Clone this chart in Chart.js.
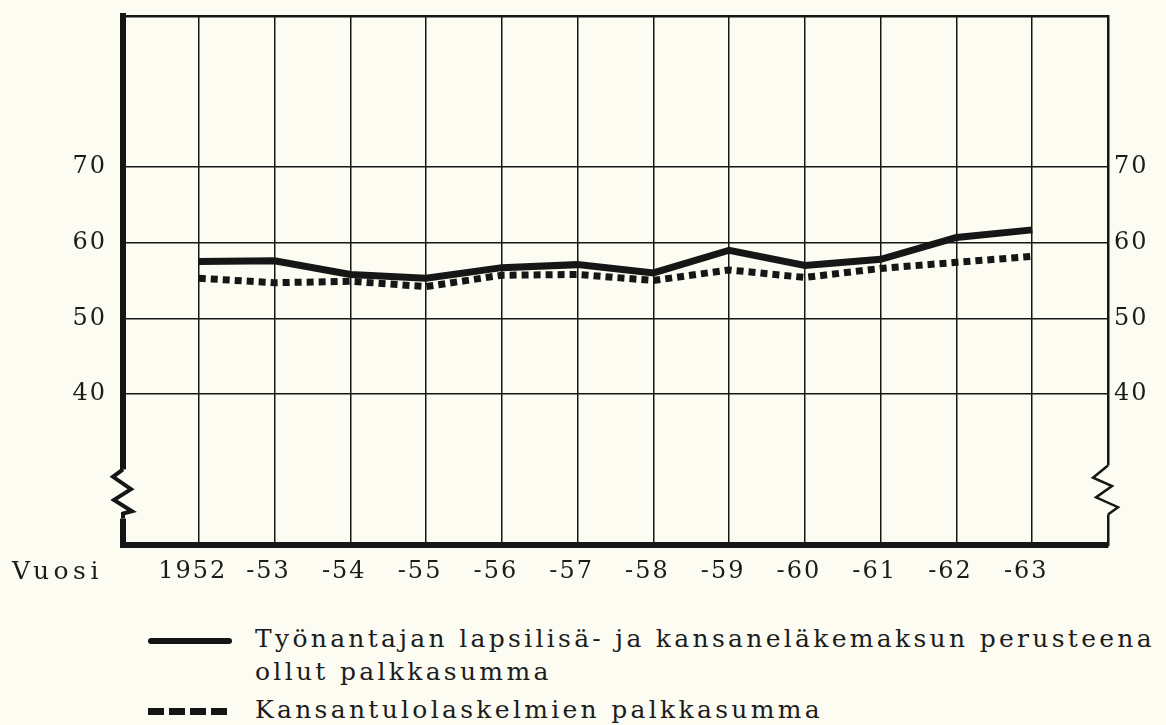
<!DOCTYPE html>
<html>
<head>
<meta charset="utf-8">
<script src="https://cdn.jsdelivr.net/npm/chart.js@4.4.0/dist/chart.umd.min.js"></script>
<style>
    html, body { margin: 0; padding: 0; background: #fdfcf3; }
    body { width: 1166px; height: 725px; position: relative; overflow: hidden; font-family: "DejaVu Serif", serif; color: #1c1c1c; }
    #wrap { position: absolute; left: 0; top: 0; width: 1166px; height: 600px; }
    .lbl { position: absolute; font-size: 25px; letter-spacing: 3.3px; white-space: nowrap; }
    .sample { position: absolute; left: 148px; width: 84px; }
    .solid { height: 6px; background: #151515; border-radius: 3px; }
    .dots { height: 7px; background: repeating-linear-gradient(90deg, #151515 0 16px, transparent 16px 21px); }
</style>
</head>
<body>
<div id="wrap"><canvas id="chart" width="1166" height="600"></canvas></div>
<div class="lbl" style="left:12px; top:556px; letter-spacing:4.5px;">Vuosi</div>
<div class="sample solid" style="top:638px;"></div>
<div class="lbl" style="left:255px; top:624px;">Työnantajan lapsilisä- ja kansaneläkemaksun perusteena</div>
<div class="lbl" style="left:255px; top:657px;">ollut palkkasumma</div>
<div class="sample dots" style="top:708px;"></div>
<div class="lbl" style="left:255px; top:695px;">Kansantulolaskelmien palkkasumma</div>
<script>
    // data (%)
    const years = [1952, 1953, 1954, 1955, 1956, 1957, 1958, 1959, 1960, 1961, 1962, 1963];
    const yearLabels = ['1952', '-53', '-54', '-55', '-56', '-57', '-58', '-59', '-60', '-61', '-62', '-63'];
    const payrollContrib = [57.5, 57.6, 55.8, 55.3, 56.7, 57.1, 56.0, 59.0, 57.0, 57.8, 60.7, 61.7];
    const payrollNational = [55.3, 54.7, 54.9, 54.2, 55.7, 55.8, 55.0, 56.4, 55.4, 56.6, 57.4, 58.2];
    const yTicks = [40, 50, 60, 70];

    const INK = '#161616';

    const breakMarks = {
        id: 'breakMarks',
        beforeDraw(chart) {
            chart.ctx.letterSpacing = '2px';
        },
        afterDraw(chart) {
            const { ctx, chartArea } = chart;
            const y = chart.scales.y;
            const top = y.getPixelForValue(30);
            const bot = y.getPixelForValue(23.5);
            ctx.save();
            ctx.fillStyle = '#fdfcf3';
            ctx.fillRect(chartArea.left - 4, top, 8, bot - top);
            ctx.fillRect(chartArea.right - 2, top - 4, 4, bot - top);
            ctx.strokeStyle = INK;
            ctx.lineJoin = 'miter';
            ctx.lineWidth = 4;
            let l = chartArea.left, h = bot - top;
            ctx.beginPath();
            ctx.moveTo(l, top);
            ctx.lineTo(l - 10, top + h * 0.15);
            ctx.lineTo(l + 8, top + h * 0.4);
            ctx.lineTo(l - 9, top + h * 0.62);
            ctx.lineTo(l + 9, top + h * 0.85);
            ctx.lineTo(l, top + h * 0.9);
            ctx.lineTo(l, bot);
            ctx.stroke();
            let r = chartArea.right, t2 = top - 4;
            ctx.lineWidth = 2.5;
            ctx.beginPath();
            ctx.moveTo(r, t2);
            ctx.lineTo(r - 15, t2 + h * 0.25);
            ctx.lineTo(r + 4, t2 + h * 0.42);
            ctx.lineTo(r - 12, t2 + h * 0.65);
            ctx.lineTo(r + 10, t2 + h * 0.85);
            ctx.lineTo(r, t2 + h);
            ctx.stroke();
            ctx.restore();
        }
    };

    const tickFont = { family: '"DejaVu Serif", serif', size: 24 };

    function fitY(width) {
        return s => {
            s.width = width;
            s.paddingTop = 0;
            s.paddingBottom = 0;
        };
    }

    new Chart(document.getElementById('chart'), {
        type: 'line',
        data: {
            datasets: [{
                label: 'Työnantajan lapsilisä- ja kansaneläkemaksun perusteena ollut palkkasumma',
                data: years.map((yr, i) => ({ x: yr, y: payrollContrib[i] })),
                borderColor: INK,
                borderWidth: 7,
                pointRadius: 0,
                tension: 0
            }, {
                label: 'Kansantulolaskelmien palkkasumma',
                data: years.map((yr, i) => ({ x: yr, y: payrollNational[i] })),
                borderColor: INK,
                borderWidth: 7,
                borderDash: [7, 5],
                borderCapStyle: 'butt',
                pointRadius: 0,
                tension: 0
            }]
        },
        options: {
            responsive: false,
            animation: false,
            layout: { padding: { top: 16, left: 0, right: 0, bottom: 0 } },
            plugins: { legend: { display: false }, tooltip: { enabled: false } },
            scales: {
                x: {
                    type: 'linear',
                    min: 1951,
                    max: 1964,
                    afterFit: s => { s.height = 55; s.paddingLeft = 0; s.paddingRight = 0; },
                    ticks: {
                        stepSize: 1,
                        autoSkip: false,
                        maxRotation: 0,
                        padding: 12,
                        labelOffset: -6,
                        color: '#1c1c1c',
                        font: tickFont,
                        callback: v => {
                            const i = years.indexOf(v);
                            return i >= 0 ? yearLabels[i] : '';
                        }
                    },
                    grid: { color: INK, lineWidth: 1.5, drawTicks: false },
                    border: { display: true, color: INK, width: 6 }
                },
                y: {
                    position: 'left',
                    min: 20,
                    max: 90,
                    afterFit: fitY(123),
                    ticks: {
                        stepSize: 10,
                        padding: 16,
                        color: '#1c1c1c',
                        font: tickFont,
                        callback: v => yTicks.includes(v) ? String(v) : ''
                    },
                    grid: {
                        drawTicks: false,
                        color: c => (c.tick.value === 90 || yTicks.includes(c.tick.value)) ? INK : 'rgba(0,0,0,0)',
                        lineWidth: c => c.tick.value === 90 ? 2.5 : 1.5
                    },
                    border: { display: true, color: INK, width: 6 }
                },
                y2: {
                    position: 'right',
                    min: 20,
                    max: 90,
                    afterFit: fitY(58),
                    ticks: {
                        stepSize: 10,
                        padding: 6,
                        color: '#1c1c1c',
                        font: tickFont,
                        callback: v => yTicks.includes(v) ? String(v) : ''
                    },
                    grid: { display: false, drawTicks: false },
                    border: { display: true, color: INK, width: 2.5 }
                }
            }
        },
        plugins: [breakMarks]
    });
</script>
</body>
</html>
